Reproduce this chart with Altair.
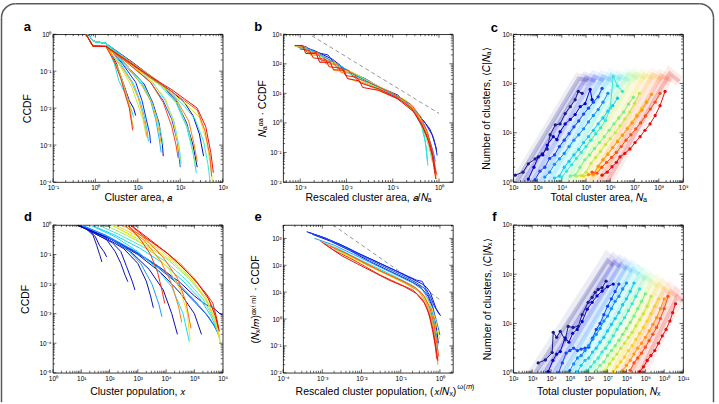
import math
import altair as alt
import pandas as pd

FONT = "Liberation Sans"
W, H = 170, 148

# jet-like colour ramp (position 0..1)
JET = ["#1c1c8a", "#0000d6", "#1a55ff", "#12a0ff", "#18dcf2", "#48f0b8",
       "#a4ef52", "#f2e41c", "#ffa21a", "#ff5614", "#e41010"]
JET_POS = [0.0, 0.1, 0.2, 0.3, 0.4, 0.5, 0.6, 0.7, 0.8, 0.9, 1.0]

# ---------------- panel a: CCDF of cluster area (log10 a, log10 CCDF) ----------------
A_HEAD_R = [(-0.22, 0.0), (-0.06, -0.32), (0.25, -0.33)]
A_HEAD_B = [(-0.18, 0.0), (-0.04, -0.19), (0.25, -0.25)]
A_TAILS = [
    (0.95, "r", [(0.45, -0.75), (0.6, -1.2), (0.72, -1.7), (0.8, -2.0), (0.88, -2.6)]),
    (0.40, "b", [(0.45, -0.8), (0.55, -1.25), (0.7, -1.6), (0.85, -2.05), (0.9, -2.25)]),
    (0.10, "b", [(0.5, -0.8), (0.65, -1.3), (0.8, -1.8), (0.9, -2.0), (0.95, -2.2)]),
    (0.80, "r", [(0.5, -0.85), (0.65, -1.35), (0.78, -1.8), (0.85, -2.3), (0.9, -2.55)]),
    (0.65, "r", [(0.55, -0.95), (0.7, -1.5), (0.82, -1.95), (0.87, -2.45)]),
    (0.80, "r", [(0.6, -0.85), (0.85, -1.3), (1.0, -1.7), (1.1, -2.1), (1.18, -2.5), (1.22, -2.8)]),
    (0.38, "b", [(0.6, -0.8), (0.9, -1.35), (1.05, -1.8), (1.15, -2.2), (1.22, -2.6), (1.25, -2.9)]),
    (0.62, "r", [(0.55, -0.8), (0.85, -1.4), (1.0, -1.9), (1.12, -2.3), (1.2, -2.75)]),
    (0.15, "b", [(0.65, -0.82), (0.95, -1.3), (1.1, -1.8), (1.2, -2.3), (1.28, -2.7), (1.3, -2.95)]),
    (0.35, "b", [(0.7, -0.85), (1.1, -1.35), (1.3, -1.8), (1.42, -2.3), (1.5, -2.8), (1.55, -3.2)]),
    (0.50, "b", [(0.7, -0.8), (1.1, -1.3), (1.3, -1.75), (1.45, -2.25), (1.55, -2.7), (1.6, -3.0)]),
    (0.78, "r", [(0.75, -0.85), (1.1, -1.4), (1.35, -1.9), (1.48, -2.5), (1.55, -2.95)]),
    (0.05, "b", [(0.7, -0.8), (1.15, -1.35), (1.35, -1.85), (1.5, -2.4), (1.58, -3.0), (1.6, -3.3)]),
    (0.20, "b", [(0.8, -0.8), (1.3, -1.3), (1.6, -1.8), (1.8, -2.3), (1.93, -2.9), (2.0, -3.6)]),
    (0.70, "r", [(0.8, -0.8), (1.3, -1.25), (1.65, -1.75), (1.85, -2.4), (1.95, -3.0), (2.0, -3.4)]),
    (0.42, "b", [(0.8, -0.78), (1.35, -1.3), (1.65, -1.8), (1.85, -2.35), (1.98, -3.1), (2.02, -3.5)]),
    (0.92, "r", [(0.8, -0.82), (1.3, -1.3), (1.6, -1.85), (1.8, -2.5), (1.9, -3.0), (1.95, -3.35)]),
    (0.40, "b", [(0.9, -0.8), (1.5, -1.35), (1.9, -1.85), (2.15, -2.5), (2.3, -3.2), (2.38, -3.75)]),
    (0.05, "b", [(0.9, -0.78), (1.5, -1.3), (1.9, -1.8), (2.15, -2.4), (2.3, -3.0), (2.4, -3.6)]),
    (0.55, "r", [(0.9, -0.8), (1.5, -1.3), (1.95, -1.9), (2.2, -2.6), (2.32, -3.3), (2.35, -3.55)]),
    (0.85, "r", [(0.9, -0.8), (1.5, -1.28), (1.9, -1.75), (2.2, -2.35), (2.33, -3.0), (2.4, -3.45)]),
    (0.45, "b", [(0.7, -0.72), (1.3, -1.2), (1.8, -1.6), (2.1, -1.95), (2.35, -2.3), (2.55, -2.9), (2.65, -3.5), (2.7, -3.95)]),
    (0.08, "b", [(0.7, -0.68), (1.3, -1.15), (1.8, -1.55), (2.1, -1.85), (2.3, -2.2), (2.45, -2.7), (2.55, -3.3)]),
    (0.68, "r", [(0.7, -0.7), (1.3, -1.2), (1.8, -1.6), (2.15, -1.9), (2.45, -2.25), (2.62, -2.9), (2.72, -3.6), (2.76, -4.0)]),
    (0.90, "r", [(0.7, -0.7), (1.3, -1.18), (1.8, -1.55), (2.1, -1.8), (2.4, -2.05), (2.58, -2.6), (2.7, -3.3), (2.74, -3.85)]),
    (1.00, "r", [(0.7, -0.68), (1.3, -1.15), (1.8, -1.5), (2.1, -1.75), (2.4, -2.0), (2.6, -2.5), (2.72, -3.2), (2.78, -3.75)]),
]

# ---------------- panel b: rescaled area CCDF ----------------
B_LINES = [
    (0.05, [(-3.1, 2.6), (-2.9, 2.55), (-2.7, 2.45), (-2.3, 2.15), (-2.0, 1.78), (-1.6, 1.5), (-1.27, 1.2), (-0.9, 0.95), (-0.56, 0.5), (-0.35, 0.1), (-0.2, -0.2), (-0.12, -0.5), (-0.05, -0.95)]),
    (0.15, [(-3.1, 2.6), (-2.88, 2.58), (-2.7, 2.4), (-2.4, 2.3), (-2.3, 2.1), (-2.0, 1.75), (-1.6, 1.45), (-1.27, 1.15), (-0.9, 0.9), (-0.55, 0.45), (-0.3, 0.0), (-0.15, -0.4), (-0.07, -0.8), (-0.04, -1.1)]),
    (0.25, [(-3.05, 2.55), (-2.8, 2.5), (-2.5, 2.25), (-2.2, 2.0), (-1.9, 1.7), (-1.5, 1.4), (-1.1, 1.05), (-0.75, 0.75), (-0.5, 0.35), (-0.32, -0.1), (-0.2, -0.6), (-0.12, -1.0), (-0.08, -1.3)]),
    (0.35, [(-3.0, 2.5), (-2.75, 2.45), (-2.45, 2.2), (-2.1, 1.9), (-1.8, 1.62), (-1.4, 1.3), (-1.0, 1.0), (-0.7, 0.7), (-0.48, 0.3), (-0.35, -0.2), (-0.28, -0.8), (-0.25, -1.3)]),
    (0.45, [(-3.08, 2.58), (-2.85, 2.5), (-2.6, 2.3), (-2.3, 2.0), (-2.0, 1.72), (-1.6, 1.38), (-1.2, 1.08), (-0.8, 0.78), (-0.52, 0.35), (-0.38, -0.1), (-0.3, -0.6), (-0.26, -1.1), (-0.24, -1.45)]),
    (0.55, [(-3.1, 2.6), (-2.9, 2.52), (-2.6, 2.28), (-2.25, 1.98), (-1.9, 1.65), (-1.5, 1.33), (-1.1, 1.02), (-0.75, 0.72), (-0.5, 0.28), (-0.33, -0.25), (-0.22, -0.8), (-0.15, -1.3)]),
    (0.65, [(-3.12, 2.62), (-2.92, 2.6), (-2.85, 2.38), (-2.6, 2.36), (-2.52, 2.1), (-2.25, 2.05), (-2.15, 1.8), (-1.9, 1.74), (-1.5, 1.4), (-1.1, 1.08), (-0.7, 0.75), (-0.45, 0.3), (-0.3, -0.3), (-0.18, -0.9), (-0.1, -1.5), (-0.07, -1.7)]),
    (0.75, [(-3.12, 2.6), (-2.95, 2.6), (-2.88, 2.35), (-2.66, 2.33), (-2.58, 2.08), (-2.36, 2.05), (-2.28, 1.78), (-2.05, 1.74), (-1.98, 1.5), (-1.6, 1.32), (-1.2, 1.02), (-0.8, 0.75), (-0.5, 0.32), (-0.3, -0.2), (-0.18, -0.8), (-0.1, -1.4), (-0.06, -1.8)]),
    (0.85, [(-3.05, 2.55), (-2.85, 2.55), (-2.78, 2.3), (-2.5, 2.28), (-2.45, 2.0), (-2.2, 1.98), (-2.12, 1.7), (-1.85, 1.68), (-1.78, 1.45), (-1.4, 1.2), (-1.0, 0.92), (-0.6, 0.55), (-0.38, 0.05), (-0.22, -0.55), (-0.12, -1.25), (-0.06, -1.9)]),
    (0.92, [(-3.1, 2.62), (-2.92, 2.6), (-2.86, 2.4), (-2.62, 2.38), (-2.55, 2.12), (-2.3, 2.08), (-2.2, 1.85), (-1.95, 1.78), (-1.85, 1.55), (-1.5, 1.36), (-1.0, 1.0), (-0.6, 0.62), (-0.4, 0.22), (-0.25, -0.3), (-0.15, -0.9), (-0.08, -1.5), (-0.05, -1.75)]),
    (0.97, [(-3.0, 2.5), (-2.8, 2.45), (-2.72, 2.2), (-2.45, 2.15), (-2.38, 1.9), (-2.1, 1.85), (-2.02, 1.6), (-1.78, 1.55), (-1.7, 1.35), (-1.3, 1.15), (-0.9, 0.85), (-0.6, 0.5), (-0.4, 0.05), (-0.25, -0.5), (-0.15, -1.1), (-0.1, -1.6), (-0.07, -1.9)]),
    (1.00, [(-3.12, 2.62), (-2.95, 2.62), (-2.88, 2.35), (-2.65, 2.35), (-2.58, 2.05), (-2.35, 2.05), (-2.28, 1.8), (-2.05, 1.78), (-1.98, 1.5), (-1.72, 1.42), (-1.65, 1.2), (-1.3, 1.1), (-0.9, 0.82), (-0.55, 0.38), (-0.35, -0.15), (-0.2, -0.7), (-0.12, -1.2), (-0.08, -1.7)]),
]
B_GUIDE = [(-2.75, 2.95), (0.0, 0.32)]

# ---------------- panel c: clusters vs total area ----------------
C_DOT_X = [
    [2.08, 2.4, 2.62, 2.9, 3.19, 3.4, 3.52, 3.73, 3.93, 4.14, 4.35, 4.55, 4.68, 4.84],
    [2.62, 2.85, 3.03, 3.22, 3.4, 3.65, 3.8, 3.93, 4.14, 4.35, 4.55, 4.76, 4.96, 5.17, 5.25],
    [2.9, 3.1, 3.3, 3.5, 3.7, 3.9, 4.1, 4.3, 4.5, 4.7, 4.9, 5.1, 5.3, 5.5, 5.66],
    [3.3, 3.5, 3.7, 3.9, 4.1, 4.3, 4.5, 4.7, 4.9, 5.1, 5.3, 5.5, 5.7, 5.9],
    [3.7, 3.9, 4.1, 4.3, 4.5, 4.7, 4.9, 5.1, 5.3, 5.5, 5.7, 5.9, 6.1, 6.3],
    [4.0, 4.2, 4.4, 4.6, 4.8, 5.0, 5.2, 5.4, 5.6, 5.8, 6.0, 6.12, 6.3, 6.5],
    [4.35, 4.55, 4.75, 4.95, 5.15, 5.35, 5.55, 5.75, 5.95, 6.15, 6.35, 6.55, 6.75, 6.95],
    [4.6, 4.8, 5.0, 5.2, 5.4, 5.6, 5.8, 6.0, 6.2, 6.4, 6.6, 6.8, 7.0, 7.2],
    [4.9, 5.1, 5.3, 5.5, 5.7, 5.9, 6.1, 6.3, 6.5, 6.7, 6.9, 7.1, 7.3, 7.5],
    [5.1, 5.3, 5.5, 5.7, 5.9, 6.1, 6.3, 6.5, 6.7, 6.9, 7.1, 7.3, 7.5, 7.7],
    [5.25, 5.45, 5.65, 5.85, 6.05, 6.25, 6.45, 6.65, 6.85, 7.05, 7.25, 7.45, 7.65, 7.85, 8.05],
    [5.66, 5.87, 6.07, 6.25, 6.4, 6.6, 6.81, 7.02, 7.23, 7.43, 7.64, 7.85, 8.05, 8.26],
]
C_DOT_Y = [
    [0.14, 0.2, 0.37, 0.47, 0.57, 0.67, 0.96, 1.16, 1.18, 1.39, 1.53, 1.67, 1.84, 1.8],
    [0.06, 0.3, 0.51, 0.55, 0.75, 0.92, 0.86, 1.02, 1.18, 1.27, 1.37, 1.53, 1.59, 1.88, 1.67],
    [0.05, 0.22, 0.3, 0.48, 0.55, 0.72, 0.85, 0.98, 1.12, 1.24, 1.38, 1.5, 1.62, 1.73, 1.9],
    [0.1, 0.2, 0.36, 0.47, 0.58, 0.72, 0.85, 0.96, 1.08, 1.22, 1.35, 1.47, 1.62, 1.8],
    [0.08, 0.12, 0.3, 0.42, 0.55, 0.66, 0.8, 0.92, 1.05, 1.18, 1.3, 1.44, 1.55, 1.7],
    [0.1, 0.22, 0.35, 0.48, 0.6, 0.72, 0.85, 0.98, 1.1, 1.25, 1.5, 2.14, 1.95, 1.84],
    [0.12, 0.14, 0.3, 0.45, 0.55, 0.68, 0.8, 0.92, 1.05, 1.18, 1.3, 1.42, 1.58, 1.72],
    [0.12, 0.13, 0.2, 0.38, 0.5, 0.62, 0.76, 0.88, 1.0, 1.14, 1.28, 1.42, 1.6, 1.8],
    [0.12, 0.15, 0.14, 0.3, 0.45, 0.58, 0.7, 0.84, 0.96, 1.1, 1.22, 1.36, 1.5, 1.65],
    [0.15, 0.16, 0.32, 0.45, 0.56, 0.7, 0.82, 0.95, 1.08, 1.2, 1.34, 1.46, 1.62, 1.78],
    [0.2, 0.18, 0.3, 0.4, 0.5, 0.6, 0.72, 0.85, 0.96, 1.08, 1.2, 1.34, 1.48, 1.62, 1.8],
    [0.14, 0.2, 0.31, 0.4, 0.51, 0.58, 0.67, 0.8, 0.92, 1.05, 1.18, 1.35, 1.55, 1.84],
]
C_BANDS = [
    [(2.0, -0.1), (4.7, 2.1), (5.1, 2.06)],
    [(2.3, -0.1), (5.0, 2.12), (5.4, 2.05)],
    [(2.65, -0.1), (5.35, 2.14), (5.75, 2.06)],
    [(3.0, -0.1), (5.7, 2.14), (6.1, 2.06)],
    [(3.35, -0.1), (6.05, 2.18), (6.45, 2.08)],
    [(3.7, -0.1), (6.4, 2.15), (6.8, 2.06)],
    [(4.05, -0.1), (6.75, 2.2), (7.15, 2.1)],
    [(4.35, -0.1), (7.05, 2.2), (7.45, 2.1)],
    [(4.7, -0.1), (7.4, 2.18), (7.8, 2.1)],
    [(5.05, -0.1), (7.75, 2.18), (8.15, 2.08)],
    [(5.4, -0.1), (8.1, 2.16), (8.5, 2.06)],
    [(5.75, -0.1), (8.45, 2.2), (8.85, 2.04)],
]

# ---------------- panel d: CCDF of cluster population ----------------
D_LINES = [
    (0.02, [(0.85, 0.0), (1.2, -0.15), (1.42, -0.35), (1.55, -0.7), (1.65, -1.0), (1.73, -1.25)]),
    (0.08, [(0.9, 0.0), (1.3, -0.2), (1.5, -0.4), (1.65, -0.7), (1.8, -0.9), (1.9, -1.08)]),
    (0.03, [(0.9, 0.0), (1.5, -0.3), (1.9, -0.5), (2.2, -0.9), (2.4, -1.3), (2.55, -1.7), (2.65, -1.92)]),
    (0.12, [(0.9, 0.0), (1.6, -0.35), (2.1, -0.6), (2.4, -0.9), (2.6, -1.4), (2.8, -1.9), (2.9, -2.2)]),
    (0.05, [(0.88, 0.0), (1.8, -0.4), (2.5, -0.8), (3.0, -1.3), (3.3, -1.9), (3.45, -2.4), (3.55, -2.8)]),
    (0.30, [(1.0, 0.0), (1.9, -0.38), (2.6, -0.8), (3.1, -1.3), (3.5, -2.0), (3.75, -2.7), (3.85, -3.1)]),
    (0.06, [(0.9, 0.0), (2.0, -0.45), (2.8, -0.95), (3.4, -1.5), (3.9, -2.2), (4.2, -3.0), (4.4, -3.7)]),
    (0.40, [(1.3, 0.0), (2.2, -0.4), (3.0, -0.9), (3.6, -1.4), (4.2, -2.1), (4.6, -3.0), (4.82, -3.95)]),
    (0.70, [(2.1, 0.0), (2.9, -0.45), (3.5, -0.9), (4.1, -1.5), (4.5, -2.2), (4.75, -3.0), (4.85, -3.9)]),
    (0.95, [(2.65, 0.0), (3.1, -0.5), (3.45, -1.0), (3.7, -1.6), (3.85, -2.2), (3.95, -2.65)]),
    (0.88, [(2.6, 0.0), (3.3, -0.5), (3.9, -1.1), (4.4, -1.8), (4.7, -2.6), (4.88, -3.5)]),
    (0.85, [(2.5, 0.0), (3.2, -0.5), (3.8, -1.2), (4.2, -2.0), (4.45, -2.8), (4.55, -3.3)]),
    (0.04, [(0.9, 0.0), (2.1, -0.5), (3.0, -1.0), (3.8, -1.6), (4.5, -2.3), (5.0, -3.0), (5.25, -3.7)]),
    (0.07, [(0.85, 0.0), (2.0, -0.45), (3.0, -0.95), (3.8, -1.45), (4.5, -1.95), (5.0, -2.4), (5.4, -2.7), (5.6, -2.75), (5.9, -3.0), (6.0, -3.05)]),
    (0.18, [(0.95, 0.0), (1.8, -0.33), (2.8, -0.85), (3.6, -1.35), (4.3, -1.9), (4.9, -2.5), (5.4, -3.0), (5.7, -3.4), (5.85, -3.7)]),
    (0.25, [(1.0, 0.0), (1.9, -0.36), (2.9, -0.88), (3.7, -1.38), (4.4, -1.95), (5.0, -2.55), (5.5, -3.1), (5.75, -3.5), (5.9, -3.8)]),
    (0.38, [(1.35, 0.0), (2.2, -0.35), (3.1, -0.8), (3.9, -1.3), (4.6, -1.9), (5.2, -2.5), (5.6, -3.1), (5.85, -3.7)]),
    (0.48, [(1.6, 0.0), (2.4, -0.35), (3.3, -0.8), (4.0, -1.25), (4.7, -1.85), (5.3, -2.5), (5.7, -3.2), (5.9, -3.9)]),
    (0.58, [(1.85, 0.0), (2.6, -0.35), (3.4, -0.75), (4.1, -1.2), (4.8, -1.8), (5.35, -2.45), (5.7, -3.1), (5.9, -3.8)]),
    (0.65, [(2.05, 0.0), (2.8, -0.35), (3.6, -0.8), (4.3, -1.3), (4.9, -1.85), (5.4, -2.45), (5.75, -3.2), (5.92, -4.0)]),
    (0.72, [(2.2, 0.0), (3.0, -0.38), (3.8, -0.85), (4.5, -1.4), (5.0, -1.95), (5.45, -2.6), (5.78, -3.4), (5.9, -3.9)]),
    (0.82, [(2.45, 0.0), (3.2, -0.4), (3.9, -0.85), (4.5, -1.3), (5.0, -1.8), (5.45, -2.4), (5.72, -3.0), (5.88, -3.6)]),
    (0.97, [(2.72, 0.0), (3.3, -0.45), (4.03, -0.95), (4.5, -1.35), (4.95, -1.8), (5.4, -2.3), (5.65, -2.64), (5.8, -3.2), (5.88, -3.6)]),
    (1.00, [(2.75, 0.0), (3.5, -0.55), (4.1, -1.0), (4.6, -1.45), (5.1, -1.95), (5.5, -2.5), (5.75, -3.1), (5.85, -3.5)]),
]

# ---------------- panel e: rescaled population CCDF ----------------
E_LINES = [
    (0.12, [(-3.4, 3.25), (-3.0, 3.05), (-2.55, 2.78), (-2.1, 2.45), (-1.71, 2.2), (-1.2, 1.85), (-0.69, 1.48), (-0.45, 1.3), (-0.34, 1.18), (-0.25, 1.0), (-0.18, 0.72), (-0.1, 0.4), (0.0, 0.15)]),
    (0.20, [(-3.3, 3.2), (-2.9, 3.0), (-2.5, 2.7), (-2.0, 2.35), (-1.5, 2.0), (-1.0, 1.65), (-0.6, 1.35), (-0.4, 1.15), (-0.3, 0.9), (-0.2, 0.55), (-0.12, 0.1), (-0.05, -0.3), (0.0, -0.6)]),
    (0.05, [(-3.25, 3.15), (-2.8, 2.9), (-2.3, 2.55), (-1.8, 2.15), (-1.3, 1.8), (-0.8, 1.45), (-0.5, 1.2), (-0.3, 0.85), (-0.18, 0.4), (-0.1, -0.2), (-0.04, -0.9)]),
    (0.30, [(-3.2, 3.0), (-2.7, 2.75), (-2.2, 2.4), (-1.7, 2.05), (-1.2, 1.7), (-0.7, 1.35), (-0.45, 1.1), (-0.3, 0.75), (-0.2, 0.3), (-0.12, -0.3), (-0.05, -1.0)]),
    (0.40, [(-3.0, 2.85), (-2.6, 2.62), (-2.1, 2.25), (-1.6, 1.9), (-1.1, 1.55), (-0.7, 1.25), (-0.45, 0.95), (-0.3, 0.55), (-0.2, 0.0), (-0.12, -0.7), (-0.08, -1.3)]),
    (0.55, [(-2.7, 2.6), (-2.3, 2.35), (-1.8, 2.0), (-1.3, 1.65), (-0.9, 1.35), (-0.55, 1.05), (-0.35, 0.7), (-0.22, 0.2), (-0.12, -0.5), (-0.05, -1.2)]),
    (0.62, [(-2.6, 2.55), (-2.1, 2.2), (-1.6, 1.85), (-1.1, 1.5), (-0.7, 1.2), (-0.45, 0.9), (-0.28, 0.5), (-0.18, 0.0), (-0.1, -0.5), (0.0, -0.4)]),
    (0.70, [(-2.5, 2.45), (-2.0, 2.1), (-1.5, 1.75), (-1.0, 1.4), (-0.6, 1.1), (-0.35, 0.8), (-0.2, 0.4), (-0.1, -0.1), (-0.03, -0.6), (0.0, -0.75)]),
    (0.82, [(-2.9, 2.8), (-2.4, 2.45), (-1.9, 2.05), (-1.4, 1.7), (-0.9, 1.35), (-0.55, 1.05), (-0.35, 0.6), (-0.22, 0.0), (-0.14, -0.6), (-0.08, -1.3), (-0.05, -1.7)]),
    (0.90, [(-2.8, 2.7), (-2.4, 2.45), (-2.0, 2.15), (-1.5, 1.78), (-1.0, 1.45), (-0.6, 1.15), (-0.4, 0.85), (-0.25, 0.4), (-0.15, -0.2), (-0.08, -0.9), (-0.03, -1.4)]),
    (0.95, [(-3.05, 2.9), (-2.7, 2.55), (-2.3, 2.27), (-1.9, 1.95), (-1.53, 1.64), (-1.1, 1.35), (-0.69, 1.08), (-0.45, 0.75), (-0.34, 0.45), (-0.25, 0.0), (-0.18, -0.5), (-0.12, -1.0), (-0.08, -1.5)]),
    (1.00, [(-2.95, 2.8), (-2.5, 2.35), (-2.1, 2.05), (-1.7, 1.75), (-1.3, 1.45), (-0.9, 1.2), (-0.6, 0.95), (-0.4, 0.6), (-0.28, 0.2), (-0.18, -0.4), (-0.1, -1.1), (-0.05, -1.55)]),
    (0.15, [(-3.35, 3.22), (-2.9, 3.0), (-2.4, 2.68), (-1.9, 2.32), (-1.4, 1.98), (-0.9, 1.65), (-0.6, 1.45), (-0.45, 1.4), (-0.35, 1.1), (-0.25, 0.85), (-0.15, 0.5), (-0.05, 0.25), (0.02, 0.12)]),
]
E_GUIDE = [(-2.73, 3.5), (0.0, 0.72)]

# ---------------- panel f: clusters vs total population ----------------
F_DOT_X = [
    [3.32, 3.7, 4.06, 4.12, 4.3, 4.49, 4.75, 4.91, 5.17, 5.44, 5.65, 5.97, 6.18, 6.34, 6.5, 6.71, 6.92],
    [3.85, 4.1, 4.3, 4.49, 4.75, 4.95, 5.15, 5.39, 5.65, 5.92, 6.18, 6.44, 6.71, 7.0, 7.3],
    [4.4, 4.6, 4.8, 5.0, 5.2, 5.4, 5.6, 5.8, 6.0, 6.2, 6.4, 6.6, 6.8, 7.0, 7.2, 7.4, 7.6],
    [5.0, 5.2, 5.4, 5.6, 5.8, 6.0, 6.2, 6.4, 6.6, 6.8, 7.0, 7.2, 7.4, 7.6, 7.8, 8.0],
    [5.4, 5.6, 5.8, 6.0, 6.2, 6.4, 6.6, 6.8, 7.0, 7.2, 7.4, 7.6, 7.8, 8.0, 8.2, 8.4],
    [5.9, 6.1, 6.3, 6.5, 6.7, 6.9, 7.1, 7.3, 7.5, 7.7, 7.9, 8.1, 8.3, 8.5, 8.7],
    [6.4, 6.6, 6.8, 7.0, 7.2, 7.4, 7.6, 7.8, 8.0, 8.2, 8.4, 8.6, 8.8, 9.0],
    [6.9, 7.1, 7.3, 7.5, 7.7, 7.9, 8.1, 8.3, 8.5, 8.7, 8.9, 9.1, 9.3],
    [7.3, 7.5, 7.7, 7.9, 8.1, 8.3, 8.5, 8.7, 8.9, 9.1, 9.3, 9.5, 9.7],
    [7.8, 8.0, 8.2, 8.4, 8.6, 8.8, 9.0, 9.2, 9.4, 9.6, 9.8, 10.0],
    [8.2, 8.4, 8.6, 8.8, 9.0, 9.2, 9.4, 9.6, 9.8, 10.0, 10.2],
    [8.7, 8.9, 9.1, 9.3, 9.5, 9.7, 9.9, 10.1, 10.3, 10.45, 10.6],
]
F_DOT_Y = [
    [0.2, 0.26, 0.41, 0.82, 0.72, 0.84, 0.67, 0.94, 0.92, 0.94, 1.18, 1.43, 1.53, 1.63, 1.69, 1.73, 1.86],
    [0.02, 0.25, 0.38, 0.43, 0.71, 0.62, 0.8, 0.88, 1.04, 1.29, 1.43, 1.56, 1.66, 1.75, 1.8],
    [0.0, 0.2, 0.4, 0.45, 0.5, 0.45, 0.48, 0.5, 0.52, 0.7, 0.88, 1.0, 1.18, 1.35, 1.5, 1.65, 1.8],
    [0.05, 0.18, 0.3, 0.35, 0.45, 0.55, 0.68, 0.78, 0.9, 1.05, 1.15, 1.3, 1.45, 1.55, 1.7, 1.82],
    [0.02, 0.15, 0.25, 0.3, 0.42, 0.5, 0.62, 0.72, 0.85, 0.98, 1.1, 1.22, 1.38, 1.5, 1.65, 1.82],
    [0.05, 0.12, 0.22, 0.3, 0.42, 0.5, 0.62, 0.75, 0.88, 1.0, 1.12, 1.26, 1.4, 1.55, 1.7],
    [0.05, 0.15, 0.22, 0.35, 0.45, 0.55, 0.66, 0.78, 0.9, 1.02, 1.15, 1.3, 1.45, 1.6],
    [0.05, 0.18, 0.28, 0.38, 0.5, 0.6, 0.72, 0.82, 0.95, 1.08, 1.2, 1.35, 1.55],
    [0.02, 0.12, 0.22, 0.32, 0.45, 0.55, 0.68, 0.8, 0.92, 1.05, 1.2, 1.35, 1.5],
    [0.05, 0.15, 0.25, 0.38, 0.5, 0.6, 0.72, 0.85, 0.98, 1.12, 1.3, 1.5],
    [0.05, 0.2, 0.3, 0.4, 0.52, 0.65, 0.78, 0.92, 1.1, 1.3, 1.55],
    [0.02, 0.12, 0.25, 0.35, 0.45, 0.6, 0.75, 0.88, 1.05, 1.22, 1.4],
]
F_BANDS = [
    [(3.0, -0.1), (7.0, 2.28), (7.3, 2.18)],
    [(3.5, -0.1), (7.35, 2.25), (7.65, 2.15)],
    [(4.0, -0.1), (7.7, 2.2), (8.0, 2.1)],
    [(4.5, -0.1), (8.0, 2.15), (8.3, 2.05)],
    [(5.0, -0.1), (8.35, 2.1), (8.65, 2.0)],
    [(5.5, -0.1), (8.7, 2.0), (9.0, 1.9)],
    [(6.0, -0.1), (9.0, 1.95), (9.3, 1.85)],
    [(6.6, -0.1), (9.35, 1.85), (9.65, 1.75)],
    [(7.1, -0.1), (9.7, 1.8), (10.0, 1.7)],
    [(7.6, -0.1), (10.0, 1.7), (10.3, 1.6)],
    [(8.1, -0.1), (10.35, 1.65), (10.65, 1.55)],
    [(8.6, -0.1), (10.7, 1.55), (11.0, 1.45)],
]

# tick-label text: exponent drawn as superscript digits
SUP = ("'10' + (datum.value < 0 ? '⁻' : '') + (abs(datum.value) >= 10 ? '¹' : '') + "
       "['⁰','¹','²','³','⁴','⁵','⁶','⁷','⁸','⁹'][abs(datum.value) % 10]")

JET_SCALE = alt.Scale(domain=JET_POS, range=JET, interpolate="rgb")


def sc(dom):
    return alt.Scale(domain=dom, nice=False, zero=False)


def decades(lo, hi):
    major = [k for k in range(math.ceil(lo - 1e-9), math.floor(hi + 1e-9) + 1)]
    minor = [k + math.log10(m) for k in range(math.floor(lo), math.ceil(hi))
             for m in range(2, 10) if lo <= k + math.log10(m) <= hi]
    return major, minor


def x_axis(vals, title, ty):
    return alt.Axis(values=vals, labelExpr=SUP, labelFont=FONT, labelFontSize=6.5,
                    labelPadding=2.5, labelFlush=False, labelOverlap=False,
                    domain=False, ticks=False, grid=False,
                    title=title, titleFont=FONT, titleFontSize=10.5, titleFontWeight="normal",
                    titleX=W / 2, titleY=ty, titleAlign="center", titleBaseline="middle")


def y_axis(vals, title, tx):
    return alt.Axis(values=vals, labelExpr=SUP, labelFont=FONT, labelFontSize=6.5,
                    labelPadding=2, labelFlush=False, labelOverlap=False,
                    domain=False, ticks=False, grid=False,
                    title=title, titleFont=FONT, titleFontSize=10.5, titleFontWeight="normal",
                    titleX=tx, titleY=H / 2, titleAngle=270, titleAlign="center",
                    titleBaseline="middle")


class Frame:
    """Shared scales and axes of one panel."""

    def __init__(self, xdom, ydom, xax, yax):
        self.xdom, self.ydom = xdom, ydom
        self.xax, self.yax = xax, yax

    def X(self, f):
        return alt.X(f, scale=sc(self.xdom), axis=self.xax)

    def Y(self, f):
        return alt.Y(f, scale=sc(self.ydom), axis=self.yax)


def tick_layers(fr):
    out = []
    xmaj, xmin = decades(*fr.xdom)
    ymaj, ymin = decades(*fr.ydom)
    for vals, ln in ((xmaj, 3.5), (xmin, 2.0)):
        base = alt.Chart(pd.DataFrame({"t": vals})).mark_rule(color="black", strokeWidth=0.6)
        out.append(base.encode(x=fr.X("t:Q"), y=alt.value(H), y2=alt.value(H - ln)))
        out.append(base.encode(x=fr.X("t:Q"), y=alt.value(0), y2=alt.value(ln)))
    for vals, ln in ((ymaj, 3.5), (ymin, 2.0)):
        base = alt.Chart(pd.DataFrame({"t": vals})).mark_rule(color="black", strokeWidth=0.6)
        out.append(base.encode(y=fr.Y("t:Q"), x=alt.value(0), x2=alt.value(ln)))
        out.append(base.encode(y=fr.Y("t:Q"), x=alt.value(W), x2=alt.value(W - ln)))
    return out


def text_layer(s, dx, dy, size=13, weight="bold", align="center", baseline="middle"):
    return alt.Chart(pd.DataFrame({"s": [s]})).mark_text(
        font=FONT, fontSize=size, fontWeight=weight, align=align, baseline=baseline,
        color="black").encode(x=alt.value(dx), y=alt.value(dy), text="s:N")


def curves_df(lines):
    rows = []
    for i, (k, pts) in enumerate(sorted(lines, key=lambda t: t[0])):
        for j, (x, y) in enumerate(pts):
            rows.append({"id": i, "k": k, "o": j, "x": x, "y": y})
    return pd.DataFrame(rows)


def ccdf_layer(lines, fr):
    return alt.Chart(curves_df(lines)).mark_line(strokeWidth=1, clip=True).encode(
        x=fr.X("x:Q"), y=fr.Y("y:Q"),
        color=alt.Color("k:Q", scale=JET_SCALE, legend=None),
        detail="id:N", order="o:Q")


def guide_layer(pts, fr):
    df = pd.DataFrame({"x": [p[0] for p in pts], "y": [p[1] for p in pts]})
    return alt.Chart(df).mark_line(color="#8a8a8a", strokeWidth=0.9, strokeDash=[4, 3]).encode(
        x=fr.X("x:Q"), y=fr.Y("y:Q"))


def count_layers(dot_x, dot_y, bands, fr, halo):
    n = len(dot_x)
    band_rows, dot_rows = [], []
    for i in range(n):
        k = i / (n - 1)
        for j, (x, y) in enumerate(bands[i]):
            band_rows.append({"id": i, "k": k, "o": j, "x": x, "y": y})
        for j, (x, y) in enumerate(zip(dot_x[i], dot_y[i])):
            dot_rows.append({"id": i, "k": k, "o": j, "x": x, "y": y})
    bdf, ddf = pd.DataFrame(band_rows), pd.DataFrame(dot_rows)
    col = alt.Color("k:Q", scale=JET_SCALE, legend=None)
    wide = alt.Chart(bdf).mark_line(strokeWidth=halo, opacity=0.08, clip=True).encode(
        x=fr.X("x:Q"), y=fr.Y("y:Q"), color=col, detail="id:N", order="o:Q")
    core = alt.Chart(bdf).mark_line(strokeWidth=4, opacity=0.22, clip=True).encode(
        x=fr.X("x:Q"), y=fr.Y("y:Q"), color=col, detail="id:N", order="o:Q")
    conn = alt.Chart(ddf).mark_line(strokeWidth=1, clip=True).encode(
        x=fr.X("x:Q"), y=fr.Y("y:Q"), color=col, detail="id:N", order="o:Q")
    dots = alt.Chart(ddf).mark_circle(size=11, opacity=1, clip=True).encode(
        x=fr.X("x:Q"), y=fr.Y("y:Q"), color=col)
    return [wide, core, conn, dots]


def frame_layers():
    one = pd.DataFrame({"v": [0]})
    g = "#5a5a5a"
    r = alt.Chart(one).mark_rule(color=g, strokeWidth=1.5)
    arc = alt.Chart(one).mark_arc(color=g)
    return [
        r.encode(x=alt.value(-37.5), x2=alt.value(647.5), y=alt.value(-30.5)),
        r.encode(x=alt.value(-51.5), y=alt.value(-16.5), y2=alt.value(368.5)),
        r.encode(x=alt.value(661.5), y=alt.value(-16.5), y2=alt.value(368.5)),
        arc.encode(x=alt.value(-37.5), y=alt.value(-16.5), theta=alt.value(4.712),
                   theta2=alt.value(6.2832), radius=alt.value(14.75), radius2=alt.value(13.25)),
        arc.encode(x=alt.value(647.5), y=alt.value(-16.5), theta=alt.value(0),
                   theta2=alt.value(1.5708), radius=alt.value(14.75), radius2=alt.value(13.25)),
    ]


def build_a_lines():
    out = []
    for k, h, tail in A_TAILS:
        out.append((k, (A_HEAD_R if h == "r" else A_HEAD_B) + tail))
    return out


# ---- a ----
fa = Frame([-1, 3], [-4, 0],
           x_axis([-1, 0, 1, 2, 3], "Cluster area, 𝑎", 15.5),
           y_axis([-4, -3, -2, -1, 0], "CCDF", -25.5))
pa = alt.layer(
    ccdf_layer(build_a_lines(), fa), *tick_layers(fa), *frame_layers(),
    text_layer("a", -25.5, -7),
).properties(width=W, height=H)

# ---- b ----
fb = Frame([-3.37, 0.3], [-2, 3],
           x_axis([-3, -2, -1, 0], "Rescaled cluster area, 𝑎/𝑁ₐ", 15.5),
           y_axis([-2, -1, 0, 1, 2, 3], "𝑁ₐᵅᵃ · CCDF", -21))
pb = alt.layer(
    guide_layer(B_GUIDE, fb), ccdf_layer(B_LINES, fb), *tick_layers(fb),
    text_layer("b", -25, -7),
).properties(width=W, height=H)

# ---- c ----
fc = Frame([2, 9], [0, 3],
           x_axis([2, 3, 4, 5, 6, 7, 8, 9], "Total cluster area, 𝑁ₐ", 15.5),
           y_axis([0, 1, 2, 3], "Number of clusters, ⟨𝐶|𝑁ₐ⟩", -27))
pc = alt.layer(
    *count_layers(C_DOT_X, C_DOT_Y, C_BANDS, fc, 11), *tick_layers(fc),
    text_layer("c", -19, -6),
).properties(width=W, height=H)

# ---- d ----
fd = Frame([0, 6], [-5, 0],
           x_axis([0, 1, 2, 3, 4, 5, 6], "Cluster population, 𝑥", 19),
           y_axis([-5, -4, -3, -2, -1, 0], "CCDF", -27.5))
pd_ = alt.layer(
    ccdf_layer(D_LINES, fd), *tick_layers(fd),
    text_layer("d", -25, -8),
).properties(width=W, height=H)

# ---- e ----
fe = Frame([-4, 0.33], [-2, 3.5],
           x_axis([-4, -3, -2, -1, 0], "", 19),
           y_axis([-2, -1, 0, 1, 2, 3], "(𝑁ₓ/𝑚)ᵅˣ⁽ᵐ⁾ · CCDF", -28))
pe = alt.layer(
    guide_layer(E_GUIDE, fe), ccdf_layer(E_LINES, fe), *tick_layers(fe),
    text_layer("e", -25, -8),
    text_layer("Rescaled cluster population, (𝑥/𝑁ₓ)", 173.5, H + 19, size=10.5,
               weight="normal", align="right"),
    text_layer("ω(𝑚)", 174.5, H + 14, size=7.5, weight="normal", align="left"),
).properties(width=W, height=H)

# ---- f ----
ff = Frame([2, 11], [0, 3],
           x_axis([2, 3, 4, 5, 6, 7, 8, 9, 10, 11], "Total cluster population, 𝑁ₓ", 19),
           y_axis([0, 1, 2, 3], "Number of clusters, ⟨𝐶|𝑁ₓ⟩", -26))
pf = alt.layer(
    *count_layers(F_DOT_X, F_DOT_Y, F_BANDS, ff, 14), *tick_layers(ff),
    text_layer("f", -19, -8),
).properties(width=W, height=H)

chart = alt.concat(
    pa, pb, pc, pd_, pe, pf, columns=3, bounds="flush",
    spacing={"row": 43, "column": 60.5},
).properties(
    padding={"left": 0, "top": 2, "right": 4, "bottom": 0},
    background="white",
).configure_view(stroke="black", strokeWidth=0.8)

chart.save("out.html", embed_options={"renderer": "svg", "actions": False})
